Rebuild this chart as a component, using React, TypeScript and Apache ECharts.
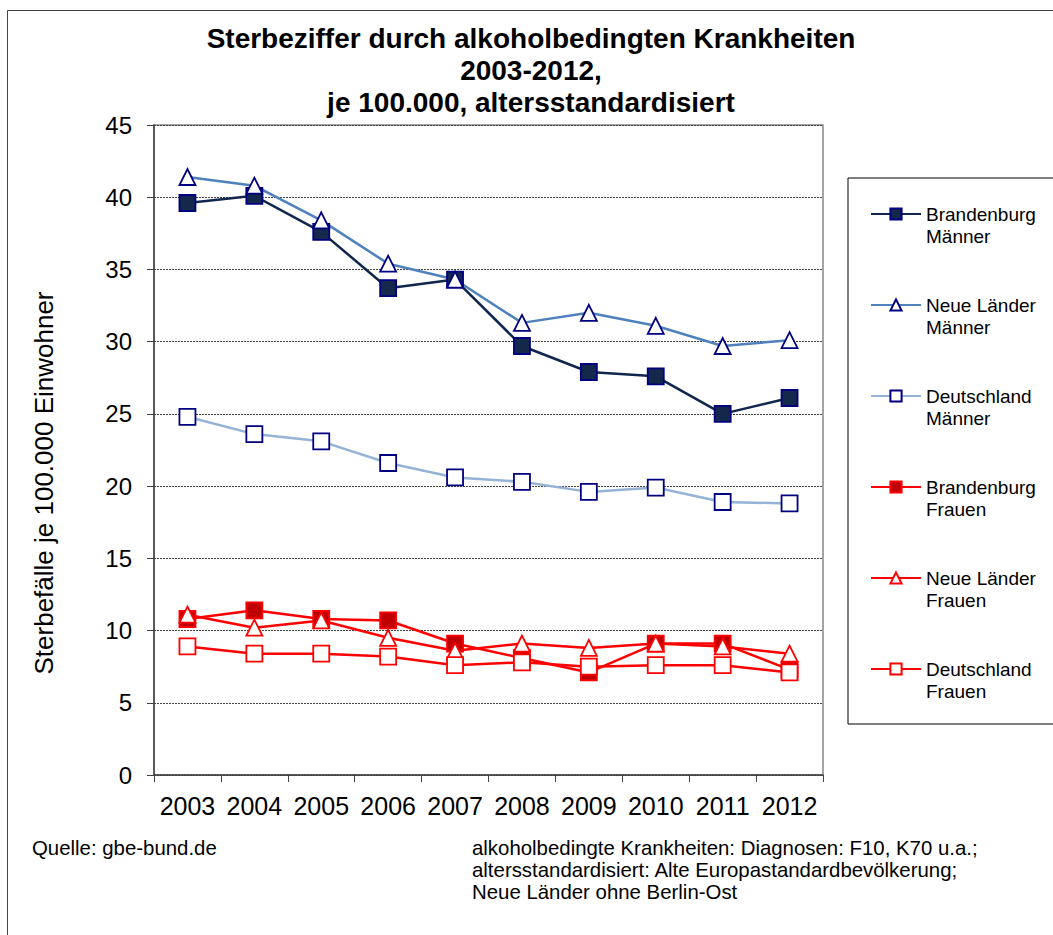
import React, { useEffect, useRef } from "react";
import * as echarts from "echarts";

const years = ["2003", "2004", "2005", "2006", "2007", "2008", "2009", "2010", "2011", "2012"];
const brandenburgMaenner = [39.6, 40.1, 37.6, 33.7, 34.3, 29.7, 27.9, 27.6, 25.0, 26.1];
const neueLaenderMaenner = [41.4, 40.8, 38.4, 35.4, 34.3, 31.3, 32.0, 31.1, 29.7, 30.1];
const deutschlandMaenner = [24.8, 23.6, 23.1, 21.6, 20.6, 20.3, 19.6, 19.9, 18.9, 18.8];
const brandenburgFrauen = [10.8, 11.4, 10.8, 10.7, 9.1, 8.1, 7.1, 9.1, 9.1, 7.3];
const neueLaenderFrauen = [11.1, 10.2, 10.7, 9.5, 8.6, 9.1, 8.8, 9.1, 8.9, 8.4];
const deutschlandFrauen = [8.9, 8.4, 8.4, 8.2, 7.6, 7.8, 7.5, 7.6, 7.6, 7.1];
const yTicks = { min: 0, max: 45, interval: 5 };

const titleText = "Sterbeziffer durch alkoholbedingten Krankheiten\n2003-2012,\nje 100.000, altersstandardisiert";
const yAxisName = "Sterbefälle je 100.000 Einwohner";
const sourceNote = "Quelle: gbe-bund.de";
const notes = [
  "alkoholbedingte Krankheiten: Diagnosen: F10, K70 u.a.;",
  "altersstandardisiert: Alte Europastandardbevölkerung;",
  "Neue Länder ohne Berlin-Ost",
];

const FONT = "'Liberation Sans', Arial, Helvetica, sans-serif";

type SeriesDef = {
  name: string;
  data: number[];
  line: string;
  symbol: string;
  fill: string;
  border: string;
};

const seriesDefs: SeriesDef[] = [
  { name: "Brandenburg\nMänner", data: brandenburgMaenner, line: "#10264C", symbol: "rect", fill: "#14284B", border: "#000080" },
  { name: "Neue Länder\nMänner", data: neueLaenderMaenner, line: "#4F81BD", symbol: "triangle", fill: "#FFFFFF", border: "#000080" },
  { name: "Deutschland\nMänner", data: deutschlandMaenner, line: "#95B3D7", symbol: "rect", fill: "#FFFFFF", border: "#000080" },
  { name: "Brandenburg\nFrauen", data: brandenburgFrauen, line: "#FF0000", symbol: "rect", fill: "#C00000", border: "#FF0000" },
  { name: "Neue Länder\nFrauen", data: neueLaenderFrauen, line: "#FF0000", symbol: "triangle", fill: "#FFFFFF", border: "#FF0000" },
  { name: "Deutschland\nFrauen", data: deutschlandFrauen, line: "#FF0000", symbol: "rect", fill: "#FFFFFF", border: "#FF0000" },
];

export default function App() {
  const ref = useRef<HTMLDivElement>(null);

  useEffect(() => {
    if (!ref.current) return;
    const chart = echarts.init(ref.current, undefined, { renderer: "svg" });
    const option: any = {
      animation: false,
      backgroundColor: "#FFFFFF",
      textStyle: { fontFamily: FONT },
      title: {
        text: titleText,
        left: 531,
        top: 22,
        padding: 0,
        textAlign: "center",
        textVerticalAlign: "top",
        textStyle: { fontFamily: FONT, fontSize: 28, fontWeight: "bold", color: "#000", lineHeight: 32 },
      },
      grid: {
        left: 154,
        top: 125,
        right: 230,
        bottom: 160,
        show: true,
        borderColor: "#868686",
        borderWidth: 1.5,
        backgroundColor: "transparent",
      },
      legend: {
        orient: "vertical",
        left: 848,
        top: 178,
        padding: [3, 80, 22, 22],
        itemWidth: 50,
        itemHeight: 14,
        itemGap: 25,
        borderColor: "#000",
        borderWidth: 1,
        backgroundColor: "#fff",
        selectedMode: false,
        data: seriesDefs.map((s) => s.name),
        formatter: (name: string) => "\n" + name,
        textStyle: { fontFamily: FONT, fontSize: 19, color: "#000", lineHeight: 22 },
      },
      xAxis: {
        type: "category",
        data: years,
        boundaryGap: true,
        axisLine: { show: true, lineStyle: { color: "#404040", width: 1.5 } },
        axisTick: { show: true, length: 7, interval: 0, lineStyle: { color: "#404040", width: 1 } },
        axisLabel: { fontFamily: FONT, fontSize: 25, color: "#000", margin: 18, interval: 0 },
        splitLine: { show: false },
      },
      yAxis: {
        type: "value",
        min: yTicks.min,
        max: yTicks.max,
        interval: yTicks.interval,
        axisLine: { show: true, lineStyle: { color: "#404040", width: 1.5 } },
        axisTick: { show: true, length: 7, lineStyle: { color: "#404040", width: 1 } },
        axisLabel: { fontFamily: FONT, fontSize: 24, color: "#000", margin: 22 },
        splitLine: { show: true, lineStyle: { color: "#444444", width: 1, type: [2, 1] } },
      },
      graphic: [
        {
          type: "rect",
          silent: true,
          z: -10,
          shape: { x: 7.5, y: 10.5, width: 1200, height: 1200 },
          style: { fill: "none", stroke: "#444444", lineWidth: 1 },
        },
        {
          type: "text",
          x: 44,
          y: 483,
          rotation: Math.PI / 2,
          style: {
            text: yAxisName,
            fontFamily: FONT,
            fontSize: 26,
            fill: "#000",
            align: "center",
            verticalAlign: "middle",
          },
        },
        {
          type: "text",
          x: 32,
          y: 848,
          style: { text: sourceNote, fontFamily: FONT, fontSize: 20.4, fill: "#000", align: "left", verticalAlign: "middle" },
        },
        ...notes.map((t, i) => ({
          type: "text",
          x: 472,
          y: 848 + i * 22,
          style: { text: t, fontFamily: FONT, fontSize: 20.4, fill: "#000", align: "left", verticalAlign: "middle" },
        })),
      ],
      series: seriesDefs.map((s) => ({
        name: s.name,
        type: "line",
        data: s.data,
        symbol: s.symbol,
        symbolSize: 16,
        showSymbol: true,
        lineStyle: { color: s.line, width: 2.5 },
        itemStyle: { color: s.fill, borderColor: s.border, borderWidth: 1.8 },
        emphasis: { disabled: true },
      })),
    };
    chart.setOption(option);
    return () => chart.dispose();
  }, []);

  return (
    <div
      ref={ref}
      style={{ position: "fixed", left: 0, top: 0, width: 1053, height: 935, background: "#fff" }}
    />
  );
}
